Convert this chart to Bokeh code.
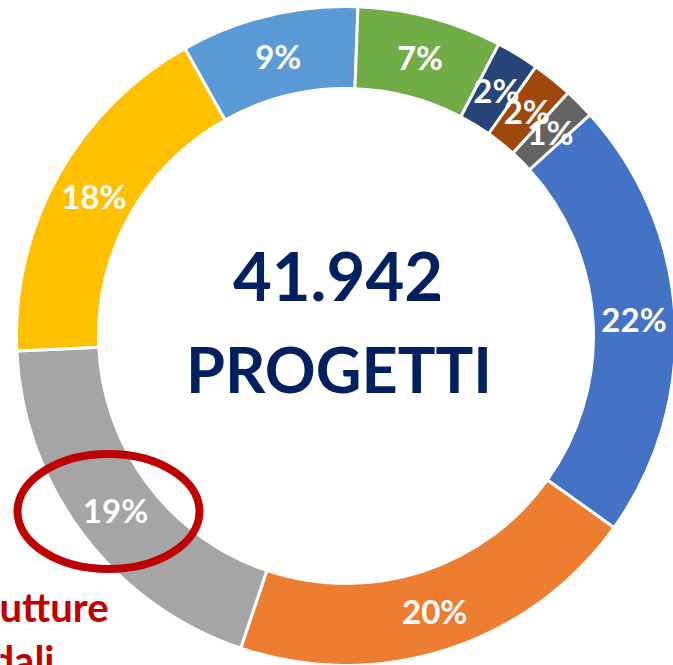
import numpy as np
from bokeh.plotting import figure
from bokeh.models import Range1d, ColumnDataSource
from bokeh.core.properties import value
from bokeh.embed import file_html
from bokeh.resources import INLINE

# ---- data ----
series = ["Serie 1", "Serie 2", "Serie 3", "Serie 4", "Serie 5",
          "Serie 6", "Serie 7", "Serie 8", "Serie 9"]
shares = [21.6, 20.3, 19.1, 17.6, 8.7, 7.1, 2.1, 2.0, 1.5]
labels = ["22%", "20%", "19%", "18%", "9%", "7%", "2%", "2%", "1%"]
colors = ["#4472C4", "#ED7D31", "#A5A5A5", "#FFC000", "#5B9BD5",
          "#70AD47", "#264478", "#9E480E", "#636363"]
total_text = "41.942"
total_caption = "PROGETTI"
note_lines = ["Infrastrutture", "stradali"]

# ---- layout ----
W, H = 673, 665
cx, cy = 345.5, H - 335.5
r_out, r_in = 329.5, 247.5
first_angle = 47.8  # degrees clockwise from 12 o'clock

vals = np.array(shares, dtype=float)
frac = vals / vals.sum()
theta_end = first_angle + np.cumsum(frac) * 360.0
theta_start = theta_end - frac * 360.0
theta_mid = (theta_start + theta_end) / 2.0

src = ColumnDataSource(dict(
    series=series,
    start=np.radians(90.0 - theta_start),
    end=np.radians(90.0 - theta_end),
    color=colors,
    label=labels,
    lx=cx + (r_in + r_out) / 2.0 * np.sin(np.radians(theta_mid)),
    ly=cy + (r_in + r_out) / 2.0 * np.cos(np.radians(theta_mid)),
))

p = figure(width=W, height=H, x_range=Range1d(0, W), y_range=Range1d(0, H),
           output_backend="svg", toolbar_location=None,
           x_axis_type=None, y_axis_type=None, min_border=0)
p.grid.visible = False
p.outline_line_color = None
p.background_fill_color = "white"
p.border_fill_color = "white"

p.annular_wedge(x=cx, y=cy, inner_radius=r_in, outer_radius=r_out,
                start_angle="start", end_angle="end", direction="clock",
                fill_color="color", line_color="white", line_width=3,
                source=src)

# red highlight ellipse around the 19% slice label
p.ellipse(x=108, y=H - 511, width=182, height=115, fill_color=None,
          line_color="#C00000", line_width=8)

p.text(x="lx", y="ly", text="label", source=src,
       text_font=value("Lato"), text_font_style="bold",
       text_font_size="33px", text_color="white",
       text_align="center", text_baseline="middle")

# centre text
p.text(x=[cx - 8], y=[H - 276], text=[total_text],
       text_font=value("Lato"), text_font_style="bold",
       text_font_size="67px", text_color="#002060",
       text_align="center", text_baseline="alphabetic")
p.text(x=[cx - 7], y=[H - 368], text=[total_caption],
       text_font=value("Lato"), text_font_style="bold",
       text_font_size="63px", text_color="#002060",
       text_align="center", text_baseline="alphabetic")

# red note, cut at the left/bottom edge
p.text(x=[108, 54], y=[H - 606, H - 659], text=note_lines,
       text_font=value("Lato"), text_font_style="bold",
       text_font_size="40px", text_color="#C00000",
       text_align="right", text_baseline="alphabetic")

open("out.html", "w").write(file_html(p, INLINE))
